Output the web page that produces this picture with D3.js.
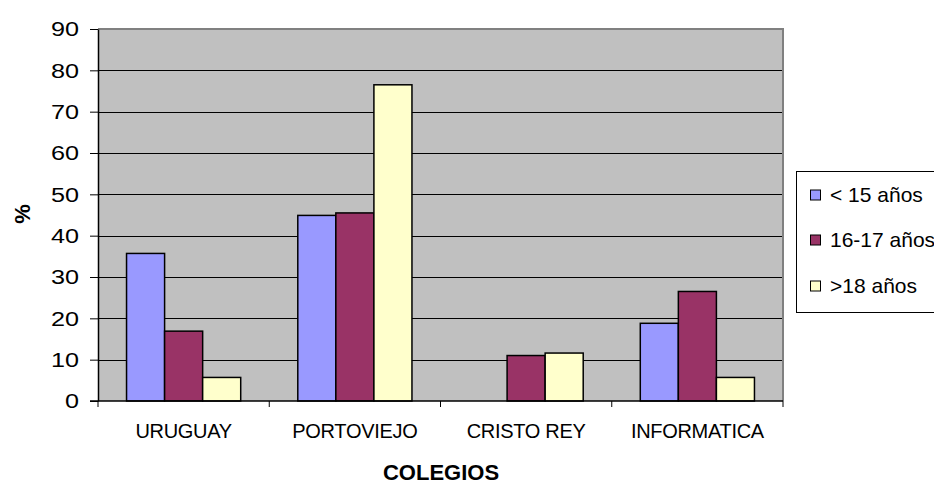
<!DOCTYPE html>
<html>
<head>
<meta charset="utf-8">
<script src="https://cdn.jsdelivr.net/npm/d3@7"></script>
<style>
  html, body { margin: 0; padding: 0; background: #ffffff; }
  svg { display: block; font-family: "Liberation Sans", Arial, sans-serif; }
</style>
</head>
<body>
<svg id="chart" width="934" height="486"></svg>
<script>
// Schools (categories) and age groups (series)
const categories = ["URUGUAY", "PORTOVIEJO", "CRISTO REY", "INFORMATICA"];
const seriesNames = ["< 15 años", "16-17 años", ">18 años"];
const seriesColors = ["#9999ff", "#993366", "#ffffcc"];

// Percentage per school for each age group
const under15 = [35.7, 44.9, 0, 18.8];
const age16to17 = [16.9, 45.5, 11.0, 26.5];
const over18 = [5.7, 76.5, 11.6, 5.7];

const yTicks = [0, 10, 20, 30, 40, 50, 60, 70, 80, 90];

const seriesValues = [under15, age16to17, over18];

const svg = d3.select("#chart");
const plot = { left: 98, right: 783, top: 29, bottom: 401 };

const x = d3.scaleBand().domain(categories).range([plot.left, plot.right]).padding(0);
const bw = x.bandwidth();
const barW = bw / 4.5;
const xs = d3.scaleBand().domain(d3.range(seriesNames.length))
  .range([(bw - 3 * barW) / 2, (bw + 3 * barW) / 2]).padding(0);
const y = d3.scaleLinear().domain([0, 90]).range([plot.bottom, plot.top]);

// Plot background
svg.append("rect")
  .attr("x", plot.left).attr("y", plot.top)
  .attr("width", plot.right - plot.left).attr("height", plot.bottom - plot.top)
  .attr("fill", "#c0c0c0");

// Horizontal gridlines
svg.append("g").selectAll("line")
  .data(yTicks.filter(d => d > 0 && d < 90))
  .join("line")
  .attr("x1", plot.left).attr("x2", plot.right)
  .attr("y1", d => Math.round(y(d)) + 0.5).attr("y2", d => Math.round(y(d)) + 0.5)
  .attr("stroke", "#000").attr("stroke-width", 1);

// Plot border (top/right in grey)
svg.append("path")
  .attr("d", `M${plot.left},${plot.top}H${plot.right}V${plot.bottom}`)
  .attr("fill", "none").attr("stroke", "#808080").attr("stroke-width", 2);

// Bars
const rows = categories.map((c, i) => seriesValues.map((vals, s) => ({ cat: c, s, v: vals[i] })));
svg.append("g").selectAll("g")
  .data(rows)
  .join("g")
  .attr("transform", d => `translate(${x(d[0].cat)},0)`)
  .selectAll("rect")
  .data(d => d.filter(e => e.v > 0))
  .join("rect")
  .attr("x", d => xs(d.s))
  .attr("y", d => y(d.v))
  .attr("width", xs.bandwidth())
  .attr("height", d => y(0) - y(d.v))
  .attr("fill", d => seriesColors[d.s])
  .attr("stroke", "#000").attr("stroke-width", 1.5);

// Y axis (labels drawn slightly wide)
const stretch = 1.2;
const yAxis = d3.axisLeft(y).tickValues(yTicks).tickSize(8).tickPadding(11).tickSizeOuter(0);
const gy = svg.append("g").attr("transform", `translate(${plot.left},0)`).call(yAxis);
gy.select(".domain").attr("stroke", "#000").attr("stroke-width", 1.5);
gy.selectAll(".tick line").attr("stroke", "#000");
gy.selectAll(".tick text")
  .attr("font-size", 21).attr("fill", "#000")
  .attr("font-family", "'Liberation Sans', Arial, sans-serif")
  .attr("x", -19 / stretch)
  .attr("transform", `scale(${stretch},1)`);

// X axis with ticks at category boundaries
const gx = svg.append("g").attr("transform", `translate(0,${plot.bottom})`);
gx.append("line").attr("x1", plot.left - 8).attr("x2", plot.right)
  .attr("stroke", "#000").attr("stroke-width", 1.5);
const boundaries = categories.map(c => x(c)).concat([x(categories[categories.length - 1]) + bw]);
gx.selectAll("line.tk").data(boundaries).join("line").attr("class", "tk")
  .attr("x1", d => d).attr("x2", d => d).attr("y1", 0).attr("y2", 6)
  .attr("stroke", "#000");
gx.selectAll("text").data(categories).join("text")
  .attr("x", d => x(d) + bw / 2).attr("y", 37)
  .attr("text-anchor", "middle")
  .attr("font-size", 20).attr("letter-spacing", -0.3)
  .attr("fill", "#000")
  .text(d => d);

// Axis titles
svg.append("text").attr("x", 441).attr("y", 480)
  .attr("text-anchor", "middle").attr("font-size", 22).attr("font-weight", "bold")
  .text("COLEGIOS");
svg.append("text")
  .attr("transform", "translate(30,214) rotate(-90)")
  .attr("text-anchor", "middle").attr("font-size", 22).attr("font-weight", "bold")
  .text("%");

// Legend
const legend = svg.append("g");
legend.append("rect").attr("x", 796.5).attr("y", 171.5).attr("width", 160).attr("height", 141)
  .attr("fill", "#fff").attr("stroke", "#000").attr("stroke-width", 1);
const legendRows = [195, 240, 286];
const li = legend.selectAll("g.item").data(seriesNames).join("g").attr("class", "item")
  .attr("transform", (d, i) => `translate(0,${legendRows[i]})`);
li.append("rect").attr("x", 810.5).attr("y", -5).attr("width", 10).attr("height", 10)
  .attr("fill", (d, i) => seriesColors[i]).attr("stroke", "#000").attr("stroke-width", 1);
li.append("text").attr("x", 830).attr("y", 7)
  .attr("font-size", 21).attr("fill", "#000").text(d => d);
</script>
</body>
</html>
